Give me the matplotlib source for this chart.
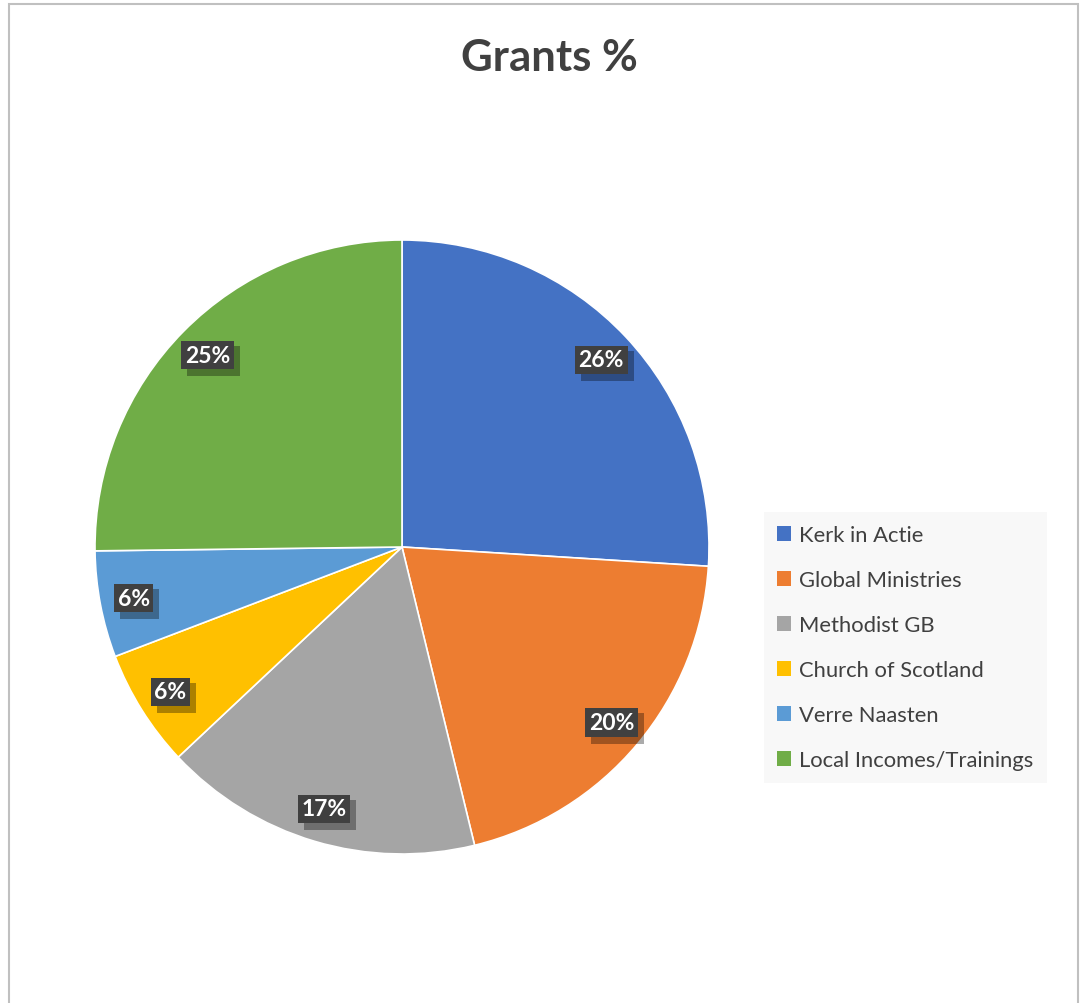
import matplotlib
matplotlib.use("Agg")
import matplotlib.pyplot as plt
from matplotlib.patches import Rectangle
from matplotlib.transforms import IdentityTransform

# data
categories = ["Kerk in Actie", "Global Ministries", "Methodist GB",
              "Church of Scotland", "Verre Naasten", "Local Incomes/Trainings"]
shares = [26.0, 20.2, 16.8, 6.2, 5.6, 25.2]
colors = ["#4472C4", "#ED7D31", "#A5A5A5", "#FFC000", "#5B9BD5", "#70AD47"]
title = "Grants %"

plt.rcParams['font.family'] = ['Lato', 'DejaVu Sans']

W, H = 1084, 1004
fig = plt.figure(figsize=(W / 100, H / 100), dpi=100)
fig.patch.set_facecolor("white")

# outer chart border (bottom edge cut off like the screenshot)
fig.patches.append(Rectangle((9 / W, -0.01), (1078 - 9) / W, (H - 5) / H + 0.01,
                             transform=fig.transFigure, fill=False,
                             edgecolor="#c0c0c0", lw=1.5))

cx, cy, r = 402, 548, 307
ax = fig.add_axes([(cx - r) / W, (H - cy - r) / H, 2 * r / W, 2 * r / H])
wedges, texts, autotexts = ax.pie(shares, colors=colors, startangle=90,
                                  counterclock=False, autopct="%1.0f%%",
                                  pctdistance=0.89,
                                  wedgeprops=dict(edgecolor="white", linewidth=1.2),
                                  textprops=dict(color="white", fontsize=16.5,
                                                 fontweight="bold"))
ax.set_aspect("equal")
ax.set_xlim(-1, 1)
ax.set_ylim(-1, 1)

for t in autotexts:
    t.set_zorder(5)
    t.set_bbox(dict(boxstyle="square,pad=0.16", facecolor="#404040",
                    edgecolor="none"))

fig.text(549 / W, 1 - 58 / H, title, ha="center", va="center",
         fontsize=31.5, fontweight="bold", color="#404040")

leg = fig.legend(wedges, categories, loc="upper left",
                 bbox_to_anchor=(764 / W, 1 - 513 / H),
                 frameon=True, fontsize=15.8, handlelength=0.65, handleheight=0.65,
                 handletextpad=0.35, labelspacing=1.14, borderpad=0.6,
                 borderaxespad=0, fancybox=False)
leg.get_frame().set_facecolor("#f7f7f7")
leg.get_frame().set_edgecolor("none")
for txt in leg.get_texts():
    txt.set_color("#404040")
for h in leg.legend_handles:
    h.set_edgecolor("none")

# drop shadows behind the percentage boxes
fig.canvas.draw()
for t in autotexts:
    bb = t.get_bbox_patch().get_window_extent()
    ax.add_patch(Rectangle((bb.x0 + 6, bb.y0 - 7), bb.width, bb.height + 2,
                           transform=IdentityTransform(), facecolor="black",
                           alpha=0.33, edgecolor="none", zorder=3))

fig.savefig("out.png", dpi=100)
